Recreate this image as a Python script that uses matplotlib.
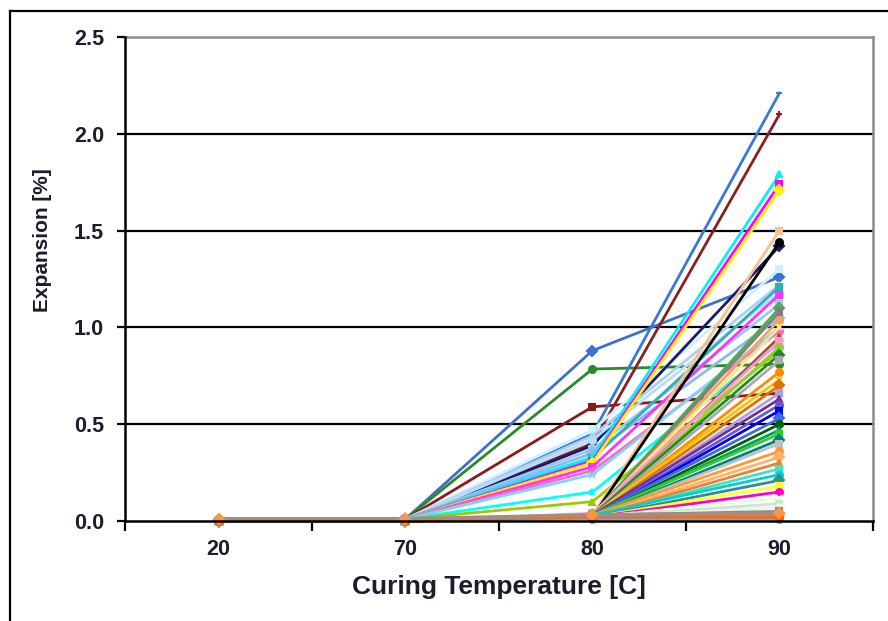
import matplotlib
matplotlib.use("Agg")
import matplotlib.pyplot as plt
from matplotlib.lines import Line2D

categories = ["20", "70", "80", "90"]

# expansion [%] per series at 20, 70, 80, 90 C
exp20 = [0.00, 0.00, 0.00, 0.00, 0.00, 0.00, 0.00, 0.00, 0.00, 0.00,
         0.00, 0.00, 0.00, 0.00, 0.00, 0.00, 0.00, 0.00, 0.00, 0.00,
         0.00, 0.00, 0.00, 0.00, 0.00, 0.00, 0.00, 0.00, 0.00, 0.00,
         0.00, 0.00, 0.00, 0.00, 0.00, 0.00, 0.00, 0.00, 0.00, 0.00,
         0.00, 0.00, 0.00, 0.00, 0.00, 0.00, 0.00, 0.00, 0.00, 0.00,
         0.00, 0.00, 0.00, 0.00, 0.00, 0.00, 0.00, 0.00, 0.00, 0.01]
exp70 = [0.01, 0.01, 0.01, 0.01, 0.01, 0.01, 0.01, 0.01, 0.01, 0.01,
         0.01, 0.01, 0.01, 0.01, 0.01, 0.01, 0.01, 0.01, 0.01, 0.01,
         0.00, 0.00, 0.00, 0.00, 0.00, 0.00, 0.00, 0.00, 0.00, 0.00,
         0.00, 0.00, 0.00, 0.00, 0.00, 0.00, 0.00, 0.00, 0.00, 0.00,
         0.00, 0.00, 0.00, 0.00, 0.00, 0.00, 0.00, 0.00, 0.00, 0.00,
         0.00, 0.00, 0.00, 0.00, 0.00, 0.00, 0.00, 0.00, 0.00, 0.01]
exp80 = [0.88, 0.785, 0.59, 0.45, 0.40, 0.47, 0.39, 0.44, 0.42, 0.37,
         0.35, 0.325, 0.33, 0.31, 0.30, 0.28, 0.26, 0.24, 0.15, 0.10,
         0.03, 0.02, 0.03, 0.02, 0.02, 0.03, 0.02, 0.04, 0.02, 0.03,
         0.02, 0.02, 0.03, 0.02, 0.02, 0.03, 0.02, 0.02, 0.03, 0.02,
         0.02, 0.03, 0.02, 0.02, 0.03, 0.02, 0.02, 0.02, 0.03, 0.02,
         0.02, 0.02, 0.02, 0.02, 0.02, 0.03, 0.02, 0.01, 0.02, 0.03]
exp90 = [1.26, 0.81, 0.66, 2.21, 2.10, 1.30, 1.42, 1.22, 1.18, 1.12,
         1.05, 1.21, 1.79, 1.74, 1.71, 1.17, 0.98, 1.00, 0.92, 0.88,
         1.50, 1.44, 1.10, 1.08, 1.04, 1.00, 0.95, 0.93, 0.90, 0.86,
         0.83, 0.77, 0.73, 0.70, 0.66, 0.63, 0.60, 0.57, 0.53, 0.50,
         0.47, 0.45, 0.42, 0.40, 0.36, 0.33, 0.30, 0.27, 0.24, 0.21,
         0.18, 0.15, 0.12, 0.09, 0.07, 0.05, 0.03, 0.01, 0.02, 0.04]

line_colors = ["#3D6FCC", "#2A8A2A", "#8B1A1A", "#3A78D8", "#8B1E1E",
               "#CCF2FF", "#1A1A6E", "#A8D0F5", "#B8DDF8", "#9CC8F0",
               "#87BDEB", "#2BB0B8", "#00F0FF", "#FF00FF", "#FFF200",
               "#FF33FF", "#FF66CC", "#7FD4F0", "#00FFFF", "#99CC00",
               "#FAC090", "#000000", "#4CAF50", "#808080", "#F4A460",
               "#FFE680", "#A0522D", "#FF99CC", "#9ACD32", "#228B22",
               "#A9A9A9", "#FF8C00", "#FFC000", "#E07000", "#B0A0E0",
               "#7030A0", "#6A5ACD", "#0000FF", "#4169E1", "#006400",
               "#00A060", "#32CD32", "#008080", "#C0C0C0", "#FF9933",
               "#FFB366", "#F08030", "#40E0D0", "#00CED1", "#2F8F8F",
               "#FFFF33", "#FF00CC", "#E0FFE0", "#C8E6C8", "#F0F0F0",
               "#888888", "#E9967A", "#7F9FDF", "#FF6A00", "#A88A80"]
markers = ["D", "o", "s", "_", "+", "s", "D", "^", "o", "s",
           "D", "s", "^", "s", "D", "s", "o", "x", "*", "^",
           "s", "o", "D", "s", "o", "x", "^", "s", "o", "D",
           "s", "o", "x", "D", "s", "^", "o", "s", "D", "o",
           "^", "s", "D", "s", "o", "D", "^", "s", "o", "D",
           "s", "o", "x", "s", "o", "s", "D", "o", "o", "D"]

fig = plt.figure(figsize=(8.88, 6.21), dpi=100)
ax = fig.add_axes([0.1408, 0.161, 0.8422, 0.7794])

x = list(range(len(categories)))
n = len(exp80)
for i in range(n):
    ys = [exp20[i], exp70[i], exp80[i], exp90[i]]
    mfc = line_colors[i]
    lw = 2.0
    if i == n - 1:
        mfc = "#F79646"
        lw = 3.0
    ax.plot(x, ys, color=line_colors[i], lw=lw, marker=markers[i],
            ms=5, mfc=mfc, mec=mfc, mew=1.5, zorder=3, clip_on=False)

ax.set_xlim(-0.5, 3.5)
ax.set_ylim(0, 2.5)
ax.set_yticks([0.0, 0.5, 1.0, 1.5, 2.0, 2.5])
ax.set_yticklabels(["0.0", "0.5", "1.0", "1.5", "2.0", "2.5"])
for yv in [0.5, 1.0, 1.5, 2.0]:
    ax.axhline(yv, color="black", lw=1.6, zorder=1)

ax.set_xticks([-0.5, 0.5, 1.5, 2.5, 3.5])
ax.set_xticklabels([])
ax.set_xticks(x, minor=True)
ax.set_xticklabels(categories, minor=True)
ax.tick_params(axis="x", which="major", direction="out", length=7, width=1.6)
ax.tick_params(axis="x", which="minor", length=0, pad=13)
ax.tick_params(axis="y", direction="out", length=6, width=1.6, pad=9)

fontname = "Liberation Sans"
for lab in ax.get_xticklabels(minor=True) + ax.get_yticklabels():
    lab.set_fontfamily(fontname)
    lab.set_fontweight("bold")
    lab.set_fontsize(15.5)
    lab.set_color("#1c1c2c")

ax.set_xlabel("Curing Temperature [C]", fontfamily=fontname, fontweight="bold",
              fontsize=19, color="#1c1c2c", labelpad=11)
ax.set_ylabel("Expansion [%]", fontfamily=fontname, fontweight="bold",
              fontsize=15, color="#1c1c2c", labelpad=12)
ax.yaxis.set_label_coords(-0.098, 0.58)

for side in ["left", "bottom"]:
    ax.spines[side].set_color("black")
    ax.spines[side].set_linewidth(1.8)
    ax.spines[side].set_zorder(5)
for side in ["top", "right"]:
    ax.spines[side].set_color("#8c8c8c")
    ax.spines[side].set_linewidth(1.8)

# figure frame (top and left edges)
fig.add_artist(Line2D([0.0118, 1.0], [0.983, 0.983], transform=fig.transFigure,
                      color="black", lw=1.6))
fig.add_artist(Line2D([0.0118, 0.0118], [0.0, 0.983], transform=fig.transFigure,
                      color="black", lw=1.6))

fig.savefig("out.png", dpi=100)
